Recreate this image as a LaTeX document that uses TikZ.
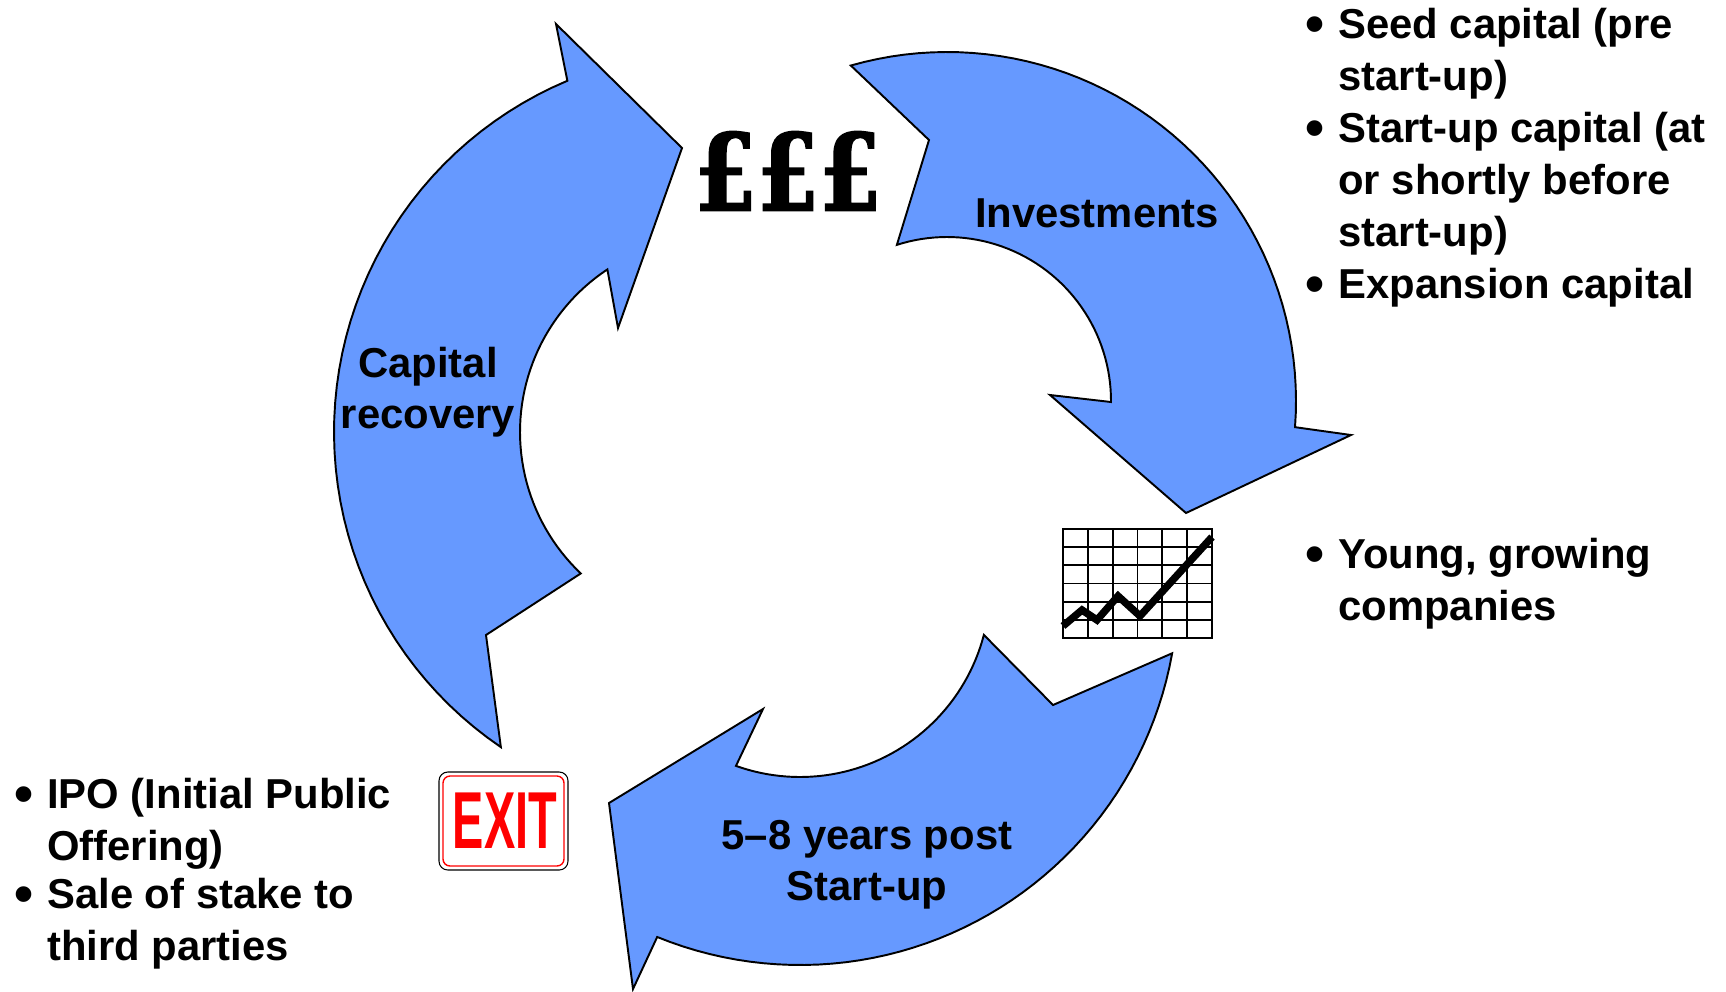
\documentclass[tikz,border=0pt]{standalone}
\usepackage{fontspec}
\setmainfont{Liberation Sans}
\newfontfamily\poundfont[FakeBold=1.6]{DejaVu Serif}
\usetikzlibrary{positioning}
\definecolor{cycleblue}{RGB}{102,153,255}
\definecolor{exitred}{RGB}{255,0,0}
\tikzset{
	cyclearrow/.style={draw=black, line width=1.1pt, fill=cycleblue, line join=miter},
	cyclelabel/.style={font=\bfseries\fontsize{23.8}{28.9}\selectfont, align=center, inner sep=0pt, anchor=base},
	listitem/.style={font=\bfseries\fontsize{23.8}{29.5}\selectfont, align=left, inner sep=0pt, anchor=base west},
}
\def\bull{\llap{\raisebox{-2.4pt}{\scalebox{1.3}{\textbullet}}\hspace{7.6pt}}}

\begin{document}
\begin{tikzpicture}[x=0.02cm, y=-0.02cm]
		%%%%% START %%%%%
		
		\useasboundingbox (0, 0) rectangle (1726, 991);
		
		% investments arrow, top right (centre 947,401)
		\draw[cyclearrow] plot[domain=106:-4.3, samples=50] ({947+349*cos(\x)}, {401-349*sin(\x)})
			-- (1351, 435) -- (1186, 513) -- (1050, 395)
			-- plot[domain=-0.35:107.8, samples=50] ({947+164*cos(\x)}, {401-164*sin(\x)})
			-- (929, 140) -- cycle;
		
		% holding arrow, bottom (centre 800,587)
		\draw[cyclearrow] plot[domain=-10.1:-112.2, samples=50] ({800+378*cos(\x)}, {587-378*sin(\x)})
			-- (633, 989) -- (609, 803) -- (763, 709)
			-- plot[domain=-109.7:-14.6, samples=50] ({800+190*cos(\x)}, {587-190*sin(\x)})
			-- (1053, 705) -- cycle;
		
		% recovery arrow, left (centre 715,432)
		\draw[cyclearrow] plot[domain=235.8:112.8, samples=50] ({715+381*cos(\x)}, {432-381*sin(\x)})
			-- (556, 24) -- (682, 148) -- (618, 328)
			-- plot[domain=123.5:226.5, samples=50] ({715+195*cos(\x)}, {432-195*sin(\x)})
			-- (486, 635) -- cycle;
		
		\node[cyclelabel] (invest) at (1097, 227) {Investments};
		\node[cyclelabel] (recover) at (428, 428) {Capital\\recovery};
		\node[cyclelabel] (years) at (867, 900) {5–8 years post\\Start-up};
		
		% pounds
		\node[font=\poundfont\bfseries\fontsize{60.7}{60.7}\selectfont, inner sep=0pt] (pounds) at (788, 171) {\scalebox{0.84}[1]{£££}};
		
		% growth chart
		\draw[line width=1pt] (1063, 529) rectangle (1212, 638);
		\draw[line width=1pt] (1087.8, 529) -- (1087.8, 638);
		\draw[line width=1pt] (1112.7, 529) -- (1112.7, 638);
		\draw[line width=1pt] (1137.5, 529) -- (1137.5, 638);
		\draw[line width=1pt] (1162.3, 529) -- (1162.3, 638);
		\draw[line width=1pt] (1187.2, 529) -- (1187.2, 638);
		\draw[line width=1pt] (1063, 547.2) -- (1212, 547.2);
		\draw[line width=1pt] (1063, 565.3) -- (1212, 565.3);
		\draw[line width=1pt] (1063, 583.5) -- (1212, 583.5);
		\draw[line width=1pt] (1063, 601.7) -- (1212, 601.7);
		\draw[line width=1pt] (1063, 619.8) -- (1212, 619.8);
		\draw[line width=4.2pt] (1063, 626) -- (1082, 610) -- (1097, 620) -- (1118, 596) -- (1140, 616) -- (1212, 537);
		
		% exit sign
		\draw[line width=0.6pt, rounded corners=5pt] (439, 772) rectangle (568, 870);
		\draw[exitred, line width=0.8pt, rounded corners=4pt] (443, 776) rectangle (564, 866);
		\node[text=exitred, font=\bfseries\fontsize{46}{46}\selectfont, inner sep=0pt] (exit) at (505, 821) {\scalebox{0.58}[1]{EXIT}};
		
		% bullet lists (base = last line)
		\node[listitem] (seed) at (1338, 90) {\bull Seed capital (pre\\start-up)};
		\node[listitem] (startup) at (1338, 246) {\bull Start-up capital (at\\or shortly before\\start-up)};
		\node[listitem] (expansion) at (1338, 298) {\bull Expansion capital};
		\node[listitem] (young) at (1338, 620) {\bull Young, growing\\companies};
		\node[listitem] (ipo) at (47, 860) {\bull IPO (Initial Public\\Offering)};
		\node[listitem] (sale) at (47, 960) {\bull Sale of stake to\\third parties};
		
		%%%%% END %%%%%
	\end{tikzpicture}
\end{document}
